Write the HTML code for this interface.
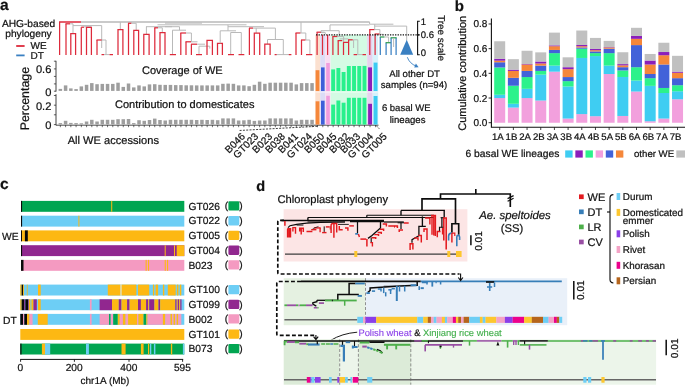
<!DOCTYPE html>
<html><head><meta charset="utf-8"><title>figure</title>
<style>
html,body{margin:0;padding:0;background:#fff;}
body{width:685px;height:387px;overflow:hidden;font-family:"Liberation Sans",sans-serif;}
svg{display:block;font-family:"Liberation Sans",sans-serif;text-rendering:geometricPrecision;will-change:transform;opacity:0.999;}
svg path{fill:none;}
svg text{stroke:#111;stroke-width:0.22px;paint-order:stroke fill;}
</style></head><body>
<svg width="685" height="387" viewBox="0 0 685 387">
<g id="pa">
<text x="0" y="10.2" font-size="15.5" text-anchor="start" fill="#111" font-weight="bold">a</text>
<text x="28.5" y="26.8" font-size="10.2" text-anchor="middle" fill="#111" >AHG-based</text>
<text x="28.5" y="37.2" font-size="10.2" text-anchor="middle" fill="#111" >phylogeny</text>
<path d="M16.2 46H24.6" stroke="#dd2a3b" stroke-width="1.8"/>
<path d="M16.2 55.4H24.6" stroke="#3a80c2" stroke-width="1.8"/>
<text x="30.5" y="49.3" font-size="10" text-anchor="start" fill="#111" >WE</text>
<text x="30.5" y="59.3" font-size="10" text-anchor="start" fill="#111" >DT</text>
<rect x="315.3" y="34.9" width="4.9" height="89.7" fill="#fbe0cf" />
<rect x="320.2" y="34.9" width="5" height="89.7" fill="#dcdcf6" />
<rect x="325.2" y="34.9" width="5.4" height="89.7" fill="#f8dcf2" />
<rect x="330.6" y="34.9" width="36.6" height="89.7" fill="#d4fbe4" />
<rect x="367.2" y="34.9" width="5.5" height="89.7" fill="#e6d2ee" />
<rect x="372.7" y="34.9" width="5.5" height="89.7" fill="#d6f2fb" />
<rect x="315.3" y="91.4" width="63" height="1.6" fill="#ffffff" opacity="0.35"/>
<path d="M56 60.8V91.6" stroke="#222" stroke-width="0.85"/>
<path d="M56 94.2V125.3" stroke="#222" stroke-width="0.85"/>
<path d="M53.9 61.2H56" stroke="#222" stroke-width="0.7"/>
<path d="M53.9 68.9H56" stroke="#222" stroke-width="0.7"/>
<path d="M53.9 76.4H56" stroke="#222" stroke-width="0.7"/>
<path d="M53.9 83.9H56" stroke="#222" stroke-width="0.7"/>
<path d="M53.9 91.2H56" stroke="#222" stroke-width="0.7"/>
<path d="M53.9 95.5H56" stroke="#222" stroke-width="0.7"/>
<path d="M53.9 105.2H56" stroke="#222" stroke-width="0.7"/>
<path d="M53.9 114.8H56" stroke="#222" stroke-width="0.7"/>
<path d="M53.9 124.6H56" stroke="#222" stroke-width="0.7"/>
<text x="51.3" y="73.3" font-size="11.1" text-anchor="end" fill="#111" >0.6</text>
<text x="51.3" y="95.5" font-size="11.1" text-anchor="end" fill="#111" >0</text>
<text x="51.3" y="109.6" font-size="11.1" text-anchor="end" fill="#111" >0.2</text>
<text x="51.3" y="128.6" font-size="11.1" text-anchor="end" fill="#111" >0</text>
<text transform="translate(28.9 98.6) rotate(-90)" font-size="12.4" text-anchor="middle" fill="#111" >Percentage</text>
<path d="M56 125.2H378.5" stroke="#222" stroke-width="0.8"/>
<rect x="58.6" y="88.9" width="3.5" height="2" fill="#9e9e9e" />
<rect x="58.6" y="123.1" width="3.5" height="1.4" fill="#9e9e9e" />
<path d="M60.35 125.2V127.2" stroke="#111" stroke-width="0.6"/>
<rect x="63.84" y="85.4" width="3.5" height="5.5" fill="#9e9e9e" />
<rect x="63.84" y="120.8" width="3.5" height="3.7" fill="#9e9e9e" />
<path d="M65.59 125.2V127.2" stroke="#111" stroke-width="0.6"/>
<rect x="69.09" y="88.4" width="3.5" height="2.5" fill="#9e9e9e" />
<rect x="69.09" y="122.9" width="3.5" height="1.6" fill="#9e9e9e" />
<path d="M70.84 125.2V127.2" stroke="#111" stroke-width="0.6"/>
<rect x="74.33" y="89.1" width="3.5" height="1.8" fill="#9e9e9e" />
<rect x="74.33" y="123.1" width="3.5" height="1.4" fill="#9e9e9e" />
<path d="M76.08 125.2V127.2" stroke="#111" stroke-width="0.6"/>
<rect x="79.58" y="86.4" width="3.5" height="4.5" fill="#9e9e9e" />
<rect x="79.58" y="123.3" width="3.5" height="1.2" fill="#9e9e9e" />
<path d="M81.33 125.2V127.2" stroke="#111" stroke-width="0.6"/>
<rect x="84.82" y="84.8" width="3.5" height="6.1" fill="#9e9e9e" />
<rect x="84.82" y="121.5" width="3.5" height="3" fill="#9e9e9e" />
<path d="M86.57 125.2V127.2" stroke="#111" stroke-width="0.6"/>
<rect x="90.06" y="83.1" width="3.5" height="7.8" fill="#9e9e9e" />
<rect x="90.06" y="119.8" width="3.5" height="4.7" fill="#9e9e9e" />
<path d="M91.81 125.2V127.2" stroke="#111" stroke-width="0.6"/>
<rect x="95.31" y="84.2" width="3.5" height="6.7" fill="#9e9e9e" />
<rect x="95.31" y="121.5" width="3.5" height="3" fill="#9e9e9e" />
<path d="M97.06 125.2V127.2" stroke="#111" stroke-width="0.6"/>
<rect x="100.55" y="83.9" width="3.5" height="7" fill="#9e9e9e" />
<rect x="100.55" y="119.8" width="3.5" height="4.7" fill="#9e9e9e" />
<path d="M102.3 125.2V127.2" stroke="#111" stroke-width="0.6"/>
<rect x="105.8" y="83.9" width="3.5" height="7" fill="#9e9e9e" />
<rect x="105.8" y="119.8" width="3.5" height="4.7" fill="#9e9e9e" />
<path d="M107.55 125.2V127.2" stroke="#111" stroke-width="0.6"/>
<rect x="111.04" y="83.9" width="3.5" height="7" fill="#9e9e9e" />
<rect x="111.04" y="119.8" width="3.5" height="4.7" fill="#9e9e9e" />
<path d="M112.79 125.2V127.2" stroke="#111" stroke-width="0.6"/>
<rect x="116.28" y="82.7" width="3.5" height="8.2" fill="#9e9e9e" />
<rect x="116.28" y="119.2" width="3.5" height="5.3" fill="#9e9e9e" />
<path d="M118.03 125.2V127.2" stroke="#111" stroke-width="0.6"/>
<rect x="121.53" y="86.9" width="3.5" height="4" fill="#9e9e9e" />
<rect x="121.53" y="119.2" width="3.5" height="5.3" fill="#9e9e9e" />
<path d="M123.28 125.2V127.2" stroke="#111" stroke-width="0.6"/>
<rect x="126.77" y="83.5" width="3.5" height="7.4" fill="#9e9e9e" />
<rect x="126.77" y="119" width="3.5" height="5.5" fill="#9e9e9e" />
<path d="M128.52 125.2V127.2" stroke="#111" stroke-width="0.6"/>
<rect x="132.02" y="87.4" width="3.5" height="3.5" fill="#9e9e9e" />
<rect x="132.02" y="123.1" width="3.5" height="1.4" fill="#9e9e9e" />
<path d="M133.77 125.2V127.2" stroke="#111" stroke-width="0.6"/>
<rect x="137.26" y="85.4" width="3.5" height="5.5" fill="#9e9e9e" />
<rect x="137.26" y="120.2" width="3.5" height="4.3" fill="#9e9e9e" />
<path d="M139.01 125.2V127.2" stroke="#111" stroke-width="0.6"/>
<rect x="142.5" y="86.4" width="3.5" height="4.5" fill="#9e9e9e" />
<rect x="142.5" y="120.8" width="3.5" height="3.7" fill="#9e9e9e" />
<path d="M144.25 125.2V127.2" stroke="#111" stroke-width="0.6"/>
<rect x="147.75" y="84.4" width="3.5" height="6.5" fill="#9e9e9e" />
<rect x="147.75" y="120" width="3.5" height="4.5" fill="#9e9e9e" />
<path d="M149.5 125.2V127.2" stroke="#111" stroke-width="0.6"/>
<rect x="152.99" y="84.2" width="3.5" height="6.7" fill="#9e9e9e" />
<rect x="152.99" y="118.6" width="3.5" height="5.9" fill="#9e9e9e" />
<path d="M154.74 125.2V127.2" stroke="#111" stroke-width="0.6"/>
<rect x="158.24" y="84.8" width="3.5" height="6.1" fill="#9e9e9e" />
<rect x="158.24" y="120" width="3.5" height="4.5" fill="#9e9e9e" />
<path d="M159.99 125.2V127.2" stroke="#111" stroke-width="0.6"/>
<rect x="163.48" y="84.9" width="3.5" height="6" fill="#9e9e9e" />
<rect x="163.48" y="120.5" width="3.5" height="4" fill="#9e9e9e" />
<path d="M165.23 125.2V127.2" stroke="#111" stroke-width="0.6"/>
<rect x="168.72" y="84.9" width="3.5" height="6" fill="#9e9e9e" />
<rect x="168.72" y="119.8" width="3.5" height="4.7" fill="#9e9e9e" />
<path d="M170.47 125.2V127.2" stroke="#111" stroke-width="0.6"/>
<rect x="173.97" y="85.1" width="3.5" height="5.8" fill="#9e9e9e" />
<rect x="173.97" y="119.8" width="3.5" height="4.7" fill="#9e9e9e" />
<path d="M175.72 125.2V127.2" stroke="#111" stroke-width="0.6"/>
<rect x="179.21" y="85.1" width="3.5" height="5.8" fill="#9e9e9e" />
<rect x="179.21" y="119.8" width="3.5" height="4.7" fill="#9e9e9e" />
<path d="M180.96 125.2V127.2" stroke="#111" stroke-width="0.6"/>
<rect x="184.46" y="85.3" width="3.5" height="5.6" fill="#9e9e9e" />
<rect x="184.46" y="119.8" width="3.5" height="4.7" fill="#9e9e9e" />
<path d="M186.21 125.2V127.2" stroke="#111" stroke-width="0.6"/>
<rect x="189.7" y="85.3" width="3.5" height="5.6" fill="#9e9e9e" />
<rect x="189.7" y="119.8" width="3.5" height="4.7" fill="#9e9e9e" />
<path d="M191.45 125.2V127.2" stroke="#111" stroke-width="0.6"/>
<rect x="194.94" y="85.4" width="3.5" height="5.5" fill="#9e9e9e" />
<rect x="194.94" y="120" width="3.5" height="4.5" fill="#9e9e9e" />
<path d="M196.69 125.2V127.2" stroke="#111" stroke-width="0.6"/>
<rect x="200.19" y="85.4" width="3.5" height="5.5" fill="#9e9e9e" />
<rect x="200.19" y="119.8" width="3.5" height="4.7" fill="#9e9e9e" />
<path d="M201.94 125.2V127.2" stroke="#111" stroke-width="0.6"/>
<rect x="205.43" y="85.4" width="3.5" height="5.5" fill="#9e9e9e" />
<rect x="205.43" y="120" width="3.5" height="4.5" fill="#9e9e9e" />
<path d="M207.18 125.2V127.2" stroke="#111" stroke-width="0.6"/>
<rect x="210.68" y="85.4" width="3.5" height="5.5" fill="#9e9e9e" />
<rect x="210.68" y="119.8" width="3.5" height="4.7" fill="#9e9e9e" />
<path d="M212.43 125.2V127.2" stroke="#111" stroke-width="0.6"/>
<rect x="215.92" y="85.4" width="3.5" height="5.5" fill="#9e9e9e" />
<rect x="215.92" y="120.2" width="3.5" height="4.3" fill="#9e9e9e" />
<path d="M217.67 125.2V127.2" stroke="#111" stroke-width="0.6"/>
<rect x="221.16" y="83.8" width="3.5" height="7.1" fill="#9e9e9e" />
<rect x="221.16" y="118.4" width="3.5" height="6.1" fill="#9e9e9e" />
<path d="M222.91 125.2V127.2" stroke="#111" stroke-width="0.6"/>
<rect x="226.41" y="83.6" width="3.5" height="7.3" fill="#9e9e9e" />
<rect x="226.41" y="118.4" width="3.5" height="6.1" fill="#9e9e9e" />
<path d="M228.16 125.2V127.2" stroke="#111" stroke-width="0.6"/>
<rect x="231.65" y="83.8" width="3.5" height="7.1" fill="#9e9e9e" />
<rect x="231.65" y="118.4" width="3.5" height="6.1" fill="#9e9e9e" />
<path d="M233.4 125.2V127.2" stroke="#111" stroke-width="0.6"/>
<rect x="236.9" y="85.4" width="3.5" height="5.5" fill="#9e9e9e" />
<rect x="236.9" y="120.5" width="3.5" height="4" fill="#9e9e9e" />
<path d="M238.65 125.2V127.2" stroke="#111" stroke-width="0.6"/>
<rect x="242.14" y="85.4" width="3.5" height="5.5" fill="#9e9e9e" />
<rect x="242.14" y="120.3" width="3.5" height="4.2" fill="#9e9e9e" />
<path d="M243.89 125.2V127.2" stroke="#111" stroke-width="0.6"/>
<rect x="247.38" y="86.2" width="3.5" height="4.7" fill="#9e9e9e" />
<rect x="247.38" y="119.8" width="3.5" height="4.7" fill="#9e9e9e" />
<path d="M249.13 125.2V127.2" stroke="#111" stroke-width="0.6"/>
<rect x="252.63" y="84.8" width="3.5" height="6.1" fill="#9e9e9e" />
<rect x="252.63" y="120.9" width="3.5" height="3.6" fill="#9e9e9e" />
<path d="M254.38 125.2V127.2" stroke="#111" stroke-width="0.6"/>
<rect x="257.87" y="81.7" width="3.5" height="9.2" fill="#9e9e9e" />
<rect x="257.87" y="120.5" width="3.5" height="4" fill="#9e9e9e" />
<path d="M259.62 125.2V127.2" stroke="#111" stroke-width="0.6"/>
<rect x="263.12" y="83.8" width="3.5" height="7.1" fill="#9e9e9e" />
<rect x="263.12" y="120.5" width="3.5" height="4" fill="#9e9e9e" />
<path d="M264.87 125.2V127.2" stroke="#111" stroke-width="0.6"/>
<rect x="268.36" y="82.7" width="3.5" height="8.2" fill="#9e9e9e" />
<rect x="268.36" y="118.4" width="3.5" height="6.1" fill="#9e9e9e" />
<path d="M270.11 125.2V127.2" stroke="#111" stroke-width="0.6"/>
<rect x="273.6" y="82.7" width="3.5" height="8.2" fill="#9e9e9e" />
<rect x="273.6" y="118.4" width="3.5" height="6.1" fill="#9e9e9e" />
<path d="M275.35 125.2V127.2" stroke="#111" stroke-width="0.6"/>
<rect x="278.85" y="82.7" width="3.5" height="8.2" fill="#9e9e9e" />
<rect x="278.85" y="118.4" width="3.5" height="6.1" fill="#9e9e9e" />
<path d="M280.6 125.2V127.2" stroke="#111" stroke-width="0.6"/>
<rect x="284.09" y="82.7" width="3.5" height="8.2" fill="#9e9e9e" />
<rect x="284.09" y="118.4" width="3.5" height="6.1" fill="#9e9e9e" />
<path d="M285.84 125.2V127.2" stroke="#111" stroke-width="0.6"/>
<rect x="289.34" y="82.7" width="3.5" height="8.2" fill="#9e9e9e" />
<rect x="289.34" y="118.4" width="3.5" height="6.1" fill="#9e9e9e" />
<path d="M291.09 125.2V127.2" stroke="#111" stroke-width="0.6"/>
<rect x="294.58" y="84.4" width="3.5" height="6.5" fill="#9e9e9e" />
<rect x="294.58" y="120.5" width="3.5" height="4" fill="#9e9e9e" />
<path d="M296.33 125.2V127.2" stroke="#111" stroke-width="0.6"/>
<rect x="299.82" y="83.1" width="3.5" height="7.8" fill="#9e9e9e" />
<rect x="299.82" y="119.8" width="3.5" height="4.7" fill="#9e9e9e" />
<path d="M301.57 125.2V127.2" stroke="#111" stroke-width="0.6"/>
<rect x="305.07" y="83.1" width="3.5" height="7.8" fill="#9e9e9e" />
<rect x="305.07" y="119.8" width="3.5" height="4.7" fill="#9e9e9e" />
<path d="M306.82 125.2V127.2" stroke="#111" stroke-width="0.6"/>
<rect x="310.31" y="83.1" width="3.5" height="7.8" fill="#9e9e9e" />
<rect x="310.31" y="119.8" width="3.5" height="4.7" fill="#9e9e9e" />
<path d="M312.06 125.2V127.2" stroke="#111" stroke-width="0.6"/>
<rect x="315.6" y="70.2" width="3.8" height="20.8" fill="#f5873a" />
<rect x="315.6" y="101.3" width="3.8" height="23.3" fill="#f5873a" />
<path d="M317.5 125.2V127.2" stroke="#111" stroke-width="0.6"/>
<rect x="321" y="67.4" width="3.6" height="23.6" fill="#3d5fd9" />
<rect x="321" y="100.7" width="3.6" height="23.9" fill="#3d5fd9" />
<path d="M322.8 125.2V127.2" stroke="#111" stroke-width="0.6"/>
<rect x="326.2" y="63" width="3.6" height="28" fill="#f09ddd" />
<rect x="326.2" y="95.8" width="3.6" height="28.8" fill="#f09ddd" />
<path d="M328 125.2V127.2" stroke="#111" stroke-width="0.6"/>
<rect x="331.2" y="69.4" width="3.9" height="21.6" fill="#28f08c" />
<rect x="331.2" y="104.6" width="3.9" height="20" fill="#28f08c" />
<path d="M333.15 125.2V127.2" stroke="#111" stroke-width="0.6"/>
<rect x="336.42" y="68" width="3.9" height="23" fill="#28f08c" />
<rect x="336.42" y="100.5" width="3.9" height="24.1" fill="#28f08c" />
<path d="M338.37 125.2V127.2" stroke="#111" stroke-width="0.6"/>
<rect x="341.64" y="72" width="3.9" height="19" fill="#28f08c" />
<rect x="341.64" y="102.7" width="3.9" height="21.9" fill="#28f08c" />
<path d="M343.59 125.2V127.2" stroke="#111" stroke-width="0.6"/>
<rect x="346.86" y="66" width="3.9" height="25" fill="#28f08c" />
<rect x="346.86" y="97.8" width="3.9" height="26.8" fill="#28f08c" />
<path d="M348.81 125.2V127.2" stroke="#111" stroke-width="0.6"/>
<rect x="352.08" y="66" width="3.9" height="25" fill="#28f08c" />
<rect x="352.08" y="97.8" width="3.9" height="26.8" fill="#28f08c" />
<path d="M354.03 125.2V127.2" stroke="#111" stroke-width="0.6"/>
<rect x="357.3" y="66" width="3.9" height="25" fill="#28f08c" />
<rect x="357.3" y="97.8" width="3.9" height="26.8" fill="#28f08c" />
<path d="M359.25 125.2V127.2" stroke="#111" stroke-width="0.6"/>
<rect x="362.52" y="65.9" width="3.9" height="25.1" fill="#28f08c" />
<rect x="362.52" y="97.8" width="3.9" height="26.8" fill="#28f08c" />
<path d="M364.47 125.2V127.2" stroke="#111" stroke-width="0.6"/>
<rect x="368.1" y="67.4" width="3.9" height="23.6" fill="#8c1fba" />
<rect x="368.1" y="103.8" width="3.9" height="20.8" fill="#8c1fba" />
<path d="M370.05 125.2V127.2" stroke="#111" stroke-width="0.6"/>
<rect x="373.6" y="62.6" width="3.9" height="28.4" fill="#3ccbf2" />
<rect x="373.6" y="96" width="3.9" height="28.6" fill="#3ccbf2" />
<path d="M375.55 125.2V127.2" stroke="#111" stroke-width="0.6"/>
<text x="142" y="74.1" font-size="11" text-anchor="start" fill="#111" >Coverage of WE</text>
<text x="115" y="108.2" font-size="11" text-anchor="start" fill="#111" >Contribution to domesticates</text>
<text x="67.7" y="143.7" font-size="11.1" text-anchor="start" fill="#111" >All WE accessions</text>
<text x="414.6" y="77" font-size="9.6" text-anchor="middle" fill="#111" >All other DT</text>
<text x="414" y="88" font-size="9.6" text-anchor="middle" fill="#111" >samples (n=94)</text>
<text x="406.2" y="110.9" font-size="9.5" text-anchor="middle" fill="#111" >6 basal WE</text>
<text x="407.6" y="122.5" font-size="9.6" text-anchor="middle" fill="#111" >lineages</text>
<path d="M317.4 126.3L239.2 130.5" stroke="#111" stroke-width="0.8" stroke-dasharray="2 1.3"/>
<path d="M376.2 125.6L379.9 129.4" stroke="#111" stroke-width="0.8" stroke-dasharray="1.6 1.2"/>
<text transform="translate(245.6 137.1) rotate(-45)" font-size="10.1" text-anchor="end" fill="#111" >B046</text>
<text transform="translate(259 137.1) rotate(-45)" font-size="10.1" text-anchor="end" fill="#111" >GT023</text>
<text transform="translate(272.9 137.1) rotate(-45)" font-size="10.1" text-anchor="end" fill="#111" >B023</text>
<text transform="translate(285.8 137.1) rotate(-45)" font-size="10.1" text-anchor="end" fill="#111" >B038</text>
<text transform="translate(298.7 137.1) rotate(-45)" font-size="10.1" text-anchor="end" fill="#111" >B041</text>
<text transform="translate(312.6 137.1) rotate(-45)" font-size="10.1" text-anchor="end" fill="#111" >GT024</text>
<text transform="translate(325 137.1) rotate(-45)" font-size="10.1" text-anchor="end" fill="#111" >B050</text>
<text transform="translate(337.2 137.1) rotate(-45)" font-size="10.1" text-anchor="end" fill="#111" >B045</text>
<text transform="translate(350 137.1) rotate(-45)" font-size="10.1" text-anchor="end" fill="#111" >B032</text>
<text transform="translate(361 137.1) rotate(-45)" font-size="10.1" text-anchor="end" fill="#111" >B033</text>
<text transform="translate(373.6 137.1) rotate(-45)" font-size="10.1" text-anchor="end" fill="#111" >GT004</text>
<text transform="translate(387.4 137.1) rotate(-45)" font-size="10.1" text-anchor="end" fill="#111" >GT005</text>
<path d="M59 22H81" stroke="#dd2a3b" stroke-width="1.5"/>
<path d="M81 22H369.6" stroke="#b9b9b9" stroke-width="1.5"/>
<path d="M165 23.1H202" stroke="#b9b9b9" stroke-width="1"/>
<path d="M157.5 24.8H246.5" stroke="#b9b9b9" stroke-width="1"/>
<path d="M59.6 22V55" stroke="#dd2a3b" stroke-width="1.25"/>
<path d="M66 23.8V55" stroke="#dd2a3b" stroke-width="1.25"/>
<path d="M65.5 23.8H70" stroke="#dd2a3b" stroke-width="1.25"/>
<path d="M70 23.8H73" stroke="#b9b9b9" stroke-width="1"/>
<path d="M73 23.8V33.5" stroke="#b9b9b9" stroke-width="1"/>
<path d="M70.8 55V33.6H75.6V55" stroke="#dd2a3b" stroke-width="1.25" fill="none" />
<path d="M73 25.6H101.7" stroke="#b9b9b9" stroke-width="1"/>
<path d="M81.3 27.2V55" stroke="#dd2a3b" stroke-width="1.25"/>
<path d="M81.3 27.2H84" stroke="#dd2a3b" stroke-width="1.25"/>
<path d="M84 26.8H91.3" stroke="#b9b9b9" stroke-width="1"/>
<path d="M86.5 55V27.4H91.4V55" stroke="#dd2a3b" stroke-width="1.25" fill="none" />
<path d="M101.7 25.6V48" stroke="#b9b9b9" stroke-width="1"/>
<path d="M97 40V55" stroke="#dd2a3b" stroke-width="1.25"/>
<path d="M96.5 40H101.7" stroke="#dd2a3b" stroke-width="1.25"/>
<path d="M101.7 40H106" stroke="#b9b9b9" stroke-width="1"/>
<path d="M106 40V54.5" stroke="#b9b9b9" stroke-width="1"/>
<path d="M101.5 54.6H104" stroke="#dd2a3b" stroke-width="1.25"/>
<path d="M104 54.6H109.5" stroke="#b9b9b9" stroke-width="1"/>
<path d="M109.5 54.6H113" stroke="#dd2a3b" stroke-width="1.25"/>
<path d="M120.3 22V29.4" stroke="#b9b9b9" stroke-width="1"/>
<path d="M118 55V29.5H122.9V55" stroke="#dd2a3b" stroke-width="1.25" fill="none" />
<path d="M128.5 23.3V55" stroke="#dd2a3b" stroke-width="1.25"/>
<path d="M128 23.3H131.5" stroke="#dd2a3b" stroke-width="1.25"/>
<path d="M131.5 23.3H136.2" stroke="#b9b9b9" stroke-width="1"/>
<path d="M136.2 23.3V30" stroke="#b9b9b9" stroke-width="1"/>
<path d="M133.8 55V30.3H138.6V55" stroke="#dd2a3b" stroke-width="1.25" fill="none" />
<path d="M146 26.7H172" stroke="#b9b9b9" stroke-width="1"/>
<path d="M146.4 26.7V34" stroke="#b9b9b9" stroke-width="1"/>
<path d="M143.8 55V34.3H149.1V55" stroke="#dd2a3b" stroke-width="1.25" fill="none" />
<path d="M154.8 27.8V55" stroke="#dd2a3b" stroke-width="1.25"/>
<path d="M154.3 27.8H158" stroke="#dd2a3b" stroke-width="1.25"/>
<path d="M158 27.8H162.3" stroke="#b9b9b9" stroke-width="1"/>
<path d="M162.3 27.8V32.4" stroke="#b9b9b9" stroke-width="1"/>
<path d="M160 55V32.6H165V55" stroke="#dd2a3b" stroke-width="1.25" fill="none" />
<path d="M165 26.7H179.5" stroke="#b9b9b9" stroke-width="1"/>
<path d="M179.5 26.7V30.2" stroke="#b9b9b9" stroke-width="1"/>
<path d="M172.4 30.2H186" stroke="#b9b9b9" stroke-width="1"/>
<path d="M172.5 30.2V54.5" stroke="#b9b9b9" stroke-width="1"/>
<path d="M169.8 54.6H176" stroke="#dd2a3b" stroke-width="1.25"/>
<path d="M180.8 33V55" stroke="#dd2a3b" stroke-width="1.25"/>
<path d="M180.3 33H186" stroke="#dd2a3b" stroke-width="1.25"/>
<path d="M186 33H191.4" stroke="#b9b9b9" stroke-width="1"/>
<path d="M191.4 33V42" stroke="#b9b9b9" stroke-width="1"/>
<path d="M186 41.8V55" stroke="#dd2a3b" stroke-width="1.25"/>
<path d="M185.5 41.8H191" stroke="#dd2a3b" stroke-width="1.25"/>
<path d="M191 41.8H197.5" stroke="#b9b9b9" stroke-width="1"/>
<path d="M191.4 44.2V55" stroke="#dd2a3b" stroke-width="1.25"/>
<path d="M191 44.2H197" stroke="#dd2a3b" stroke-width="1.25"/>
<path d="M197 44.2H205" stroke="#b9b9b9" stroke-width="1"/>
<path d="M199 46.2V54.5" stroke="#b9b9b9" stroke-width="1"/>
<path d="M199 46.2H209.8" stroke="#b9b9b9" stroke-width="1"/>
<path d="M209.8 46.2V48.6" stroke="#b9b9b9" stroke-width="1"/>
<path d="M196 54.6H202" stroke="#dd2a3b" stroke-width="1.25"/>
<path d="M207 55V40.4H212.4V55" stroke="#dd2a3b" stroke-width="1.25" fill="none" />
<path d="M217.5 55V43.4H222.4V55" stroke="#dd2a3b" stroke-width="1.25" fill="none" />
<path d="M228 26.7H264" stroke="#b9b9b9" stroke-width="1"/>
<path d="M228 24.8V30.8" stroke="#b9b9b9" stroke-width="1"/>
<path d="M220.2 30.8H236" stroke="#b9b9b9" stroke-width="1"/>
<path d="M220.2 30.8V43.4" stroke="#b9b9b9" stroke-width="1"/>
<path d="M230.7 54.5V32.5H241.3V54.5" stroke="#b9b9b9" stroke-width="1" fill="none" />
<path d="M228 54.6H234" stroke="#dd2a3b" stroke-width="1.25"/>
<path d="M238.5 54.6H244.3" stroke="#dd2a3b" stroke-width="1.25"/>
<path d="M249.4 28.1V55" stroke="#dd2a3b" stroke-width="1.25"/>
<path d="M249 28.1H253" stroke="#dd2a3b" stroke-width="1.25"/>
<path d="M253 28.1H275.4" stroke="#b9b9b9" stroke-width="1"/>
<path d="M256.2 28.1V33" stroke="#b9b9b9" stroke-width="1"/>
<path d="M254.3 55V33.1H259.7V55" stroke="#dd2a3b" stroke-width="1.25" fill="none" />
<path d="M275.4 28.1V39.5" stroke="#b9b9b9" stroke-width="1"/>
<path d="M267.5 39.5H283.3" stroke="#b9b9b9" stroke-width="1"/>
<path d="M267.5 39.5V44" stroke="#b9b9b9" stroke-width="1"/>
<path d="M283.3 39.5V54.6" stroke="#b9b9b9" stroke-width="1"/>
<path d="M264.8 55V44H270.1V55" stroke="#dd2a3b" stroke-width="1.25" fill="none" />
<path d="M275.4 54.6H290" stroke="#b9b9b9" stroke-width="1"/>
<path d="M274.6 54.6H276.6" stroke="#dd2a3b" stroke-width="1.25"/>
<path d="M288.8 54.6H291.4" stroke="#dd2a3b" stroke-width="1.25"/>
<path d="M301 22V33" stroke="#b9b9b9" stroke-width="1"/>
<path d="M296 33V55" stroke="#dd2a3b" stroke-width="1.25"/>
<path d="M295.5 33H300.5" stroke="#dd2a3b" stroke-width="1.25"/>
<path d="M300.5 33H305.8" stroke="#b9b9b9" stroke-width="1"/>
<path d="M305.8 33V40" stroke="#b9b9b9" stroke-width="1"/>
<path d="M301.5 40V55" stroke="#dd2a3b" stroke-width="1.25"/>
<path d="M301 40H305.5" stroke="#dd2a3b" stroke-width="1.25"/>
<path d="M305.5 40H309.9" stroke="#b9b9b9" stroke-width="1"/>
<path d="M309.9 40V54.6" stroke="#b9b9b9" stroke-width="1"/>
<path d="M306 54.6H312.3" stroke="#dd2a3b" stroke-width="1.25"/>
<path d="M330 24.9H369.6" stroke="#b9b9b9" stroke-width="1"/>
<path d="M330 24.9V30.7" stroke="#b9b9b9" stroke-width="1"/>
<path d="M321 30.7H339.2" stroke="#b9b9b9" stroke-width="1"/>
<path d="M339.2 30.7V36.3" stroke="#b9b9b9" stroke-width="1"/>
<path d="M317.1 32.2V55" stroke="#dd2a3b" stroke-width="1.25"/>
<path d="M316.6 32.2H321" stroke="#dd2a3b" stroke-width="1.25"/>
<path d="M321 32.2H324.5" stroke="#b9b9b9" stroke-width="1"/>
<path d="M321 30.7V32.2" stroke="#b9b9b9" stroke-width="1"/>
<path d="M321 32.6H325.3" stroke="#b9b9b9" stroke-width="1"/>
<path d="M325.3 32.6V34.5" stroke="#b9b9b9" stroke-width="1"/>
<path d="M322.5 34.8V55" stroke="#dd2a3b" stroke-width="1.25"/>
<path d="M327.6 34.8V55" stroke="#dd2a3b" stroke-width="1.25"/>
<path d="M332.9 36.5V55" stroke="#dd2a3b" stroke-width="1.25"/>
<path d="M332.4 36.5H337.5" stroke="#dd2a3b" stroke-width="1.25"/>
<path d="M337.5 36.5H343.6" stroke="#b9b9b9" stroke-width="1"/>
<path d="M343.6 36.5V41.8" stroke="#b9b9b9" stroke-width="1"/>
<path d="M338.2 40.6V55" stroke="#dd2a3b" stroke-width="1.25"/>
<path d="M337.7 40.6H342.3" stroke="#dd2a3b" stroke-width="1.25"/>
<path d="M339.5 38.9H348.3" stroke="#b9b9b9" stroke-width="1"/>
<path d="M343.5 42.4V55" stroke="#dd2a3b" stroke-width="1.25"/>
<path d="M343 42.4H349" stroke="#dd2a3b" stroke-width="1.25"/>
<path d="M348.6 39.8V55" stroke="#dd2a3b" stroke-width="1.25"/>
<path d="M348.1 39.8H352.8" stroke="#dd2a3b" stroke-width="1.25"/>
<path d="M352.8 39.8H357.8" stroke="#b9b9b9" stroke-width="1"/>
<path d="M353.6 40V48" stroke="#b9b9b9" stroke-width="1"/>
<path d="M357.8 39.8V54.5" stroke="#b9b9b9" stroke-width="1"/>
<path d="M353.6 54.6H357" stroke="#dd2a3b" stroke-width="1.25"/>
<path d="M357 54.6H362.5" stroke="#b9b9b9" stroke-width="1"/>
<path d="M362.5 54.6H366" stroke="#dd2a3b" stroke-width="1.25"/>
<path d="M369.6 24.2H393.4" stroke="#b9b9b9" stroke-width="1"/>
<path d="M369.6 22V24.2" stroke="#b9b9b9" stroke-width="1"/>
<path d="M374.7 26.1H406.7" stroke="#b9b9b9" stroke-width="1"/>
<path d="M374.7 24.2V29.6" stroke="#b9b9b9" stroke-width="1"/>
<path d="M369.8 29.6V55" stroke="#dd2a3b" stroke-width="1.25"/>
<path d="M369.3 29.6H374.5" stroke="#dd2a3b" stroke-width="1.25"/>
<path d="M374.5 29.6H379.9" stroke="#b9b9b9" stroke-width="1"/>
<path d="M379.9 29.6V34" stroke="#b9b9b9" stroke-width="1"/>
<path d="M375.1 34V55" stroke="#dd2a3b" stroke-width="1.25"/>
<path d="M374.6 34H379.5" stroke="#dd2a3b" stroke-width="1.25"/>
<path d="M379.5 34.3H383.5" stroke="#b9b9b9" stroke-width="1"/>
<path d="M380.3 37V55" stroke="#3a80c2" stroke-width="1.25"/>
<path d="M379.8 37H384.5" stroke="#2e9e4f" stroke-width="1.25"/>
<path d="M384.5 37H388.6" stroke="#b9b9b9" stroke-width="1"/>
<path d="M388.6 37V42.7" stroke="#b9b9b9" stroke-width="1"/>
<path d="M386.1 42.7V55" stroke="#3a80c2" stroke-width="1.25"/>
<path d="M385.6 42.7H391" stroke="#2e9e4f" stroke-width="1.25"/>
<path d="M391.1 37.8V55" stroke="#3a80c2" stroke-width="1.25"/>
<path d="M396.1 37.8V55" stroke="#3a80c2" stroke-width="1.25"/>
<path d="M390.6 37.8H396.6" stroke="#2e9e4f" stroke-width="1.25"/>
<path d="M393.6 38V47" stroke="#b9b9b9" stroke-width="1"/>
<path d="M406.7 26.1V40.5" stroke="#b9b9b9" stroke-width="1"/>
<path d="M406.7 39.8L413.2 54.8H400.2Z" style="fill:#3a80c2" stroke="none"/>
<path d="M316 34.9H419.5" stroke="#111" stroke-width="1.1" stroke-dasharray="1.3 1.25"/>
<path d="M419.8 21.3H417.6V54.7H419.8" stroke="#111" stroke-width="1.1" fill="none" />
<path d="M417.6 34.9H419.8" stroke="#111" stroke-width="1"/>
<text x="420.8" y="24.8" font-size="9.5" text-anchor="start" fill="#111" >1</text>
<text x="420.8" y="38.3" font-size="9.5" text-anchor="start" fill="#111" >0.6</text>
<text x="420.8" y="55.5" font-size="9.5" text-anchor="start" fill="#111" >0</text>
<text transform="translate(437.9 38) rotate(90)" font-size="9.9" text-anchor="middle" fill="#111" >Tree scale</text>
<path d="M407.3 57.2Q409.5 63.5 416.3 66.2" stroke="#3a80c2" stroke-width="0.9" fill="none" />
<path d="M418.6 67.2L414.2 67.6L415.9 63.6Z" style="fill:#3a80c2" stroke="none"/>
</g>
<g id="pb">
<text x="454.8" y="11.4" font-size="15" text-anchor="start" fill="#111" font-weight="bold">b</text>
<path d="M491.4 18.6V127.2" stroke="#111" stroke-width="1.1"/>
<path d="M490.9 127.3H685" stroke="#111" stroke-width="1.1"/>
<path d="M488.6 122.7H491.4" stroke="#111" stroke-width="0.9"/>
<text x="487.3" y="126.2" font-size="10" text-anchor="end" fill="#111" >0.0</text>
<path d="M488.6 98.02H491.4" stroke="#111" stroke-width="0.9"/>
<text x="487.3" y="101.52" font-size="10" text-anchor="end" fill="#111" >0.2</text>
<path d="M488.6 73.34H491.4" stroke="#111" stroke-width="0.9"/>
<text x="487.3" y="76.84" font-size="10" text-anchor="end" fill="#111" >0.4</text>
<path d="M488.6 48.66H491.4" stroke="#111" stroke-width="0.9"/>
<text x="487.3" y="52.16" font-size="10" text-anchor="end" fill="#111" >0.6</text>
<path d="M488.6 23.98H491.4" stroke="#111" stroke-width="0.9"/>
<text x="487.3" y="27.48" font-size="10" text-anchor="end" fill="#111" >0.8</text>
<text transform="translate(465.6 73.3) rotate(-90)" font-size="11" text-anchor="middle" fill="#111" >Cumulative contribution</text>
<rect x="494.2" y="98.02" width="11" height="24.73" fill="#f2a0dd" />
<rect x="494.2" y="94.69" width="11" height="3.38" fill="#3fcdf2" />
<rect x="494.2" y="67.42" width="11" height="27.32" fill="#2cf28b" />
<rect x="494.2" y="62.23" width="11" height="5.23" fill="#4262d9" />
<rect x="494.2" y="60.63" width="11" height="1.65" fill="#f5873a" />
<rect x="494.2" y="58.78" width="11" height="1.9" fill="#8b1fbb" />
<rect x="494.2" y="41.26" width="11" height="17.57" fill="#c0c0c0" />
<path d="M499.7 127.2V130" stroke="#111" stroke-width="0.8"/>
<text x="497.8" y="139.8" font-size="9.6" text-anchor="middle" fill="#111" >1A</text>
<rect x="507.88" y="107.52" width="11" height="15.23" fill="#f2a0dd" />
<rect x="507.88" y="103.7" width="11" height="3.88" fill="#3fcdf2" />
<rect x="507.88" y="85.68" width="11" height="18.07" fill="#2cf28b" />
<rect x="507.88" y="77.78" width="11" height="7.95" fill="#4262d9" />
<rect x="507.88" y="70.87" width="11" height="6.96" fill="#f5873a" />
<rect x="507.88" y="69.64" width="11" height="1.28" fill="#8b1fbb" />
<rect x="507.88" y="59.15" width="11" height="10.54" fill="#c0c0c0" />
<path d="M513.38 127.2V130" stroke="#111" stroke-width="0.8"/>
<text x="511.48" y="139.8" font-size="9.6" text-anchor="middle" fill="#111" >1B</text>
<rect x="521.56" y="98.02" width="11" height="24.73" fill="#f2a0dd" />
<rect x="521.56" y="88.77" width="11" height="9.3" fill="#3fcdf2" />
<rect x="521.56" y="77.04" width="11" height="11.77" fill="#2cf28b" />
<rect x="521.56" y="70.87" width="11" height="6.22" fill="#4262d9" />
<rect x="521.56" y="64.46" width="11" height="6.47" fill="#f5873a" />
<rect x="521.56" y="63.96" width="11" height="0.54" fill="#8b1fbb" />
<rect x="521.56" y="50.76" width="11" height="13.25" fill="#c0c0c0" />
<path d="M527.06 127.2V130" stroke="#111" stroke-width="0.8"/>
<text x="525.16" y="139.8" font-size="9.6" text-anchor="middle" fill="#111" >2A</text>
<rect x="535.24" y="100.49" width="11" height="22.26" fill="#f2a0dd" />
<rect x="535.24" y="74.57" width="11" height="25.96" fill="#3fcdf2" />
<rect x="535.24" y="70.87" width="11" height="3.75" fill="#2cf28b" />
<rect x="535.24" y="65.57" width="11" height="5.36" fill="#4262d9" />
<rect x="535.24" y="63.47" width="11" height="2.15" fill="#f5873a" />
<rect x="535.24" y="61.49" width="11" height="2.02" fill="#8b1fbb" />
<rect x="535.24" y="52.36" width="11" height="9.18" fill="#c0c0c0" />
<path d="M540.74 127.2V130" stroke="#111" stroke-width="0.8"/>
<text x="538.84" y="139.8" font-size="9.6" text-anchor="middle" fill="#111" >2B</text>
<rect x="548.92" y="71.61" width="11" height="51.14" fill="#f2a0dd" />
<rect x="548.92" y="65.57" width="11" height="6.1" fill="#3fcdf2" />
<rect x="548.92" y="53.1" width="11" height="12.51" fill="#2cf28b" />
<rect x="548.92" y="49.89" width="11" height="3.26" fill="#4262d9" />
<rect x="548.92" y="46.19" width="11" height="3.75" fill="#f5873a" />
<rect x="548.92" y="45.33" width="11" height="0.91" fill="#8b1fbb" />
<rect x="548.92" y="32.62" width="11" height="12.76" fill="#c0c0c0" />
<path d="M554.42 127.2V130" stroke="#111" stroke-width="0.8"/>
<text x="552.52" y="139.8" font-size="9.6" text-anchor="middle" fill="#111" >3A</text>
<rect x="562.6" y="118.5" width="11" height="4.25" fill="#f2a0dd" />
<rect x="562.6" y="86.42" width="11" height="32.13" fill="#3fcdf2" />
<rect x="562.6" y="81.11" width="11" height="5.36" fill="#2cf28b" />
<rect x="562.6" y="77.04" width="11" height="4.12" fill="#4262d9" />
<rect x="562.6" y="69.14" width="11" height="7.95" fill="#f5873a" />
<rect x="562.6" y="67.17" width="11" height="2.02" fill="#8b1fbb" />
<rect x="562.6" y="57.3" width="11" height="9.92" fill="#c0c0c0" />
<path d="M568.1 127.2V130" stroke="#111" stroke-width="0.8"/>
<text x="566.2" y="139.8" font-size="9.6" text-anchor="middle" fill="#111" >3B</text>
<rect x="576.28" y="114.06" width="11" height="8.69" fill="#f2a0dd" />
<rect x="576.28" y="57.91" width="11" height="56.2" fill="#3fcdf2" />
<rect x="576.28" y="48.66" width="11" height="9.3" fill="#2cf28b" />
<rect x="576.28" y="47.43" width="11" height="1.28" fill="#4262d9" />
<rect x="576.28" y="46.19" width="11" height="1.28" fill="#f5873a" />
<rect x="576.28" y="44.96" width="11" height="1.28" fill="#8b1fbb" />
<rect x="576.28" y="30.52" width="11" height="14.49" fill="#c0c0c0" />
<path d="M581.78 127.2V130" stroke="#111" stroke-width="0.8"/>
<text x="579.88" y="139.8" font-size="9.6" text-anchor="middle" fill="#111" >4A</text>
<rect x="589.96" y="116.16" width="11" height="6.59" fill="#f2a0dd" />
<rect x="589.96" y="56.06" width="11" height="60.15" fill="#3fcdf2" />
<rect x="589.96" y="53.1" width="11" height="3.01" fill="#2cf28b" />
<rect x="589.96" y="51.37" width="11" height="1.78" fill="#4262d9" />
<rect x="589.96" y="50.14" width="11" height="1.28" fill="#f5873a" />
<rect x="589.96" y="48.91" width="11" height="1.28" fill="#8b1fbb" />
<rect x="589.96" y="37.92" width="11" height="11.03" fill="#c0c0c0" />
<path d="M595.46 127.2V130" stroke="#111" stroke-width="0.8"/>
<text x="593.56" y="139.8" font-size="9.6" text-anchor="middle" fill="#111" >4B</text>
<rect x="603.64" y="73.96" width="11" height="48.79" fill="#f2a0dd" />
<rect x="603.64" y="65.57" width="11" height="8.44" fill="#3fcdf2" />
<rect x="603.64" y="53.1" width="11" height="12.51" fill="#2cf28b" />
<rect x="603.64" y="48.66" width="11" height="4.49" fill="#4262d9" />
<rect x="603.64" y="47.43" width="11" height="1.28" fill="#f5873a" />
<rect x="603.64" y="47.06" width="11" height="0.42" fill="#8b1fbb" />
<rect x="603.64" y="40.89" width="11" height="6.22" fill="#c0c0c0" />
<path d="M609.14 127.2V130" stroke="#111" stroke-width="0.8"/>
<text x="607.24" y="139.8" font-size="9.6" text-anchor="middle" fill="#111" >5A</text>
<rect x="617.32" y="115.91" width="11" height="6.84" fill="#f2a0dd" />
<rect x="617.32" y="76.92" width="11" height="39.04" fill="#3fcdf2" />
<rect x="617.32" y="70.38" width="11" height="6.59" fill="#2cf28b" />
<rect x="617.32" y="67.17" width="11" height="3.26" fill="#4262d9" />
<rect x="617.32" y="65.32" width="11" height="1.9" fill="#f5873a" />
<rect x="617.32" y="64.09" width="11" height="1.28" fill="#8b1fbb" />
<rect x="617.32" y="52.24" width="11" height="11.9" fill="#c0c0c0" />
<path d="M622.82 127.2V130" stroke="#111" stroke-width="0.8"/>
<text x="620.92" y="139.8" font-size="9.6" text-anchor="middle" fill="#111" >5B</text>
<rect x="631" y="91.48" width="11" height="31.27" fill="#f2a0dd" />
<rect x="631" y="80.5" width="11" height="11.03" fill="#3fcdf2" />
<rect x="631" y="67.17" width="11" height="13.38" fill="#2cf28b" />
<rect x="631" y="45.08" width="11" height="22.14" fill="#4262d9" />
<rect x="631" y="38.79" width="11" height="6.34" fill="#f5873a" />
<rect x="631" y="35.83" width="11" height="3.01" fill="#8b1fbb" />
<rect x="631" y="27.81" width="11" height="8.07" fill="#c0c0c0" />
<path d="M636.5 127.2V130" stroke="#111" stroke-width="0.8"/>
<text x="634.6" y="139.8" font-size="9.6" text-anchor="middle" fill="#111" >6A</text>
<rect x="644.68" y="121.22" width="11" height="1.53" fill="#f2a0dd" />
<rect x="644.68" y="85.8" width="11" height="35.47" fill="#3fcdf2" />
<rect x="644.68" y="78.15" width="11" height="7.7" fill="#2cf28b" />
<rect x="644.68" y="73.96" width="11" height="4.25" fill="#4262d9" />
<rect x="644.68" y="64.46" width="11" height="9.55" fill="#f5873a" />
<rect x="644.68" y="60.51" width="11" height="4" fill="#8b1fbb" />
<rect x="644.68" y="53.97" width="11" height="6.59" fill="#c0c0c0" />
<path d="M650.18 127.2V130" stroke="#111" stroke-width="0.8"/>
<text x="648.28" y="139.8" font-size="9.6" text-anchor="middle" fill="#111" >6B</text>
<rect x="658.36" y="118.5" width="11" height="4.25" fill="#f2a0dd" />
<rect x="658.36" y="92.96" width="11" height="25.59" fill="#3fcdf2" />
<rect x="658.36" y="87.9" width="11" height="5.11" fill="#2cf28b" />
<rect x="658.36" y="64.46" width="11" height="23.5" fill="#4262d9" />
<rect x="658.36" y="55.2" width="11" height="9.31" fill="#f5873a" />
<rect x="658.36" y="51.99" width="11" height="3.26" fill="#8b1fbb" />
<rect x="658.36" y="42.74" width="11" height="9.31" fill="#c0c0c0" />
<path d="M663.86 127.2V130" stroke="#111" stroke-width="0.8"/>
<text x="661.96" y="139.8" font-size="9.6" text-anchor="middle" fill="#111" >7A</text>
<rect x="672.04" y="99.25" width="11" height="23.5" fill="#f2a0dd" />
<rect x="672.04" y="91.23" width="11" height="8.07" fill="#3fcdf2" />
<rect x="672.04" y="85.19" width="11" height="6.1" fill="#2cf28b" />
<rect x="672.04" y="78.15" width="11" height="7.08" fill="#4262d9" />
<rect x="672.04" y="72.72" width="11" height="5.48" fill="#f5873a" />
<rect x="672.04" y="71.61" width="11" height="1.16" fill="#8b1fbb" />
<rect x="672.04" y="55.82" width="11" height="15.85" fill="#c0c0c0" />
<path d="M677.54 127.2V130" stroke="#111" stroke-width="0.8"/>
<text x="675.64" y="139.8" font-size="9.6" text-anchor="middle" fill="#111" >7B</text>
<text x="465.5" y="157" font-size="10.3" text-anchor="start" fill="#111" >6 basal WE lineages</text>
<rect x="565.2" y="150.4" width="7.4" height="7.2" fill="#3fcdf2" />
<rect x="575.35" y="150.4" width="7.4" height="7.2" fill="#8b1fbb" />
<rect x="585.5" y="150.4" width="7.4" height="7.2" fill="#2cf28b" />
<rect x="595.65" y="150.4" width="7.4" height="7.2" fill="#f2a0dd" />
<rect x="605.8" y="150.4" width="7.4" height="7.2" fill="#4262d9" />
<rect x="615.95" y="150.4" width="7.4" height="7.2" fill="#f5873a" />
<text x="634" y="157" font-size="9.65" text-anchor="start" fill="#111" >other WE</text>
<rect x="676.3" y="150.4" width="9" height="7.2" fill="#c0c0c0" />
</g>
<g id="pc">
<text x="0" y="188.6" font-size="15.5" text-anchor="start" fill="#111" font-weight="bold">c</text>
<rect x="21" y="200.9" width="163.3" height="10.9" fill="#00a551" />
<rect x="21" y="200.9" width="1.1" height="10.9" fill="#0a0a0a" />
<rect x="111.2" y="200.9" width="1" height="10.9" fill="#fdb813" />
<text x="188.5" y="209.5" font-size="10.25" text-anchor="start" fill="#111" >GT026</text>
<text x="224.7" y="209.3" font-size="10.2" text-anchor="start" fill="#111" >(</text>
<text x="239.2" y="209.3" font-size="10.2" text-anchor="start" fill="#111" >)</text>
<rect x="228.4" y="201.3" width="10.9" height="9.3" fill="#00a551" rx="1.1"/>
<rect x="21" y="215.7" width="163.3" height="10.9" fill="#6dcef5" />
<rect x="21" y="215.7" width="1.1" height="10.9" fill="#0a0a0a" />
<rect x="78.4" y="215.7" width="1" height="10.9" fill="#fdb813" />
<text x="188.5" y="224.3" font-size="10.25" text-anchor="start" fill="#111" >GT022</text>
<text x="224.7" y="224.1" font-size="10.2" text-anchor="start" fill="#111" >(</text>
<text x="239.2" y="224.1" font-size="10.2" text-anchor="start" fill="#111" >)</text>
<rect x="228.4" y="216.1" width="10.9" height="9.3" fill="#6dcef5" rx="1.1"/>
<rect x="21" y="230.4" width="163.3" height="10.9" fill="#fdb813" />
<rect x="21" y="230.4" width="1" height="10.9" fill="#0a0a0a" />
<rect x="24.9" y="230.4" width="2.9" height="10.9" fill="#0a0a0a" />
<text x="188.5" y="239" font-size="10.25" text-anchor="start" fill="#111" >GT005</text>
<text x="224.7" y="238.8" font-size="10.2" text-anchor="start" fill="#111" >(</text>
<text x="239.2" y="238.8" font-size="10.2" text-anchor="start" fill="#111" >)</text>
<rect x="228.4" y="230.8" width="10.9" height="9.3" fill="#fdb813" rx="1.1"/>
<rect x="21" y="245.2" width="163.3" height="10.9" fill="#91278f" />
<rect x="21" y="245.2" width="1.1" height="10.9" fill="#0a0a0a" />
<rect x="164.7" y="245.2" width="1" height="10.9" fill="#fdb813" />
<rect x="174" y="245.2" width="1" height="10.9" fill="#fdb813" />
<rect x="176.7" y="245.2" width="7.6" height="10.9" fill="#fdb813" />
<text x="188.5" y="253.8" font-size="10.25" text-anchor="start" fill="#111" >GT004</text>
<text x="224.7" y="253.6" font-size="10.2" text-anchor="start" fill="#111" >(</text>
<text x="239.2" y="253.6" font-size="10.2" text-anchor="start" fill="#111" >)</text>
<rect x="228.4" y="245.6" width="10.9" height="9.3" fill="#91278f" rx="1.1"/>
<rect x="21" y="259.9" width="163.3" height="10.9" fill="#f49ac1" />
<rect x="21" y="259.9" width="2.5" height="10.9" fill="#0a0a0a" />
<rect x="145.6" y="259.9" width="1.1" height="10.9" fill="#fdb813" />
<rect x="148" y="259.9" width="1.1" height="10.9" fill="#fdb813" />
<rect x="164.7" y="259.9" width="1.1" height="10.9" fill="#fdb813" />
<rect x="167" y="259.9" width="1.1" height="10.9" fill="#fdb813" />
<text x="188.5" y="268.5" font-size="10.25" text-anchor="start" fill="#111" >B023</text>
<text x="224.7" y="268.3" font-size="10.2" text-anchor="start" fill="#111" >(</text>
<text x="239.2" y="268.3" font-size="10.2" text-anchor="start" fill="#111" >)</text>
<rect x="228.4" y="260.3" width="10.9" height="9.3" fill="#f49ac1" rx="1.1"/>
<rect x="20.3" y="284.6" width="164" height="10.9" fill="#6dcef5" />
<rect x="20.3" y="284.6" width="1.4" height="10.9" fill="#fdb813" />
<rect x="21.7" y="284.6" width="1.4" height="10.9" fill="#0a0a0a" />
<rect x="23.1" y="284.6" width="0.9" height="10.9" fill="#fdb813" />
<rect x="26.8" y="284.6" width="0.8" height="10.9" fill="#fdb813" />
<rect x="38" y="284.6" width="2.7" height="10.9" fill="#fdb813" />
<rect x="107.8" y="284.6" width="12.4" height="10.9" fill="#fdb813" />
<rect x="120.2" y="284.6" width="1.7" height="10.9" fill="#f8d98a" />
<rect x="121.9" y="284.6" width="14.5" height="10.9" fill="#fdb813" />
<rect x="138" y="284.6" width="11.2" height="10.9" fill="#fdb813" />
<rect x="152.9" y="284.6" width="1.3" height="10.9" fill="#fdb813" />
<rect x="155.6" y="284.6" width="2.5" height="10.9" fill="#fdb813" />
<rect x="162.9" y="284.6" width="1.4" height="10.9" fill="#fdb813" />
<rect x="167.8" y="284.6" width="7.9" height="10.9" fill="#fdb813" />
<rect x="176.9" y="284.6" width="1.5" height="10.9" fill="#fdb813" />
<rect x="179.8" y="284.6" width="1.5" height="10.9" fill="#fdb813" />
<text x="188.5" y="293.2" font-size="10.25" text-anchor="start" fill="#111" >GT100</text>
<text x="224.7" y="293" font-size="10.2" text-anchor="start" fill="#111" >(</text>
<text x="239.2" y="293" font-size="10.2" text-anchor="start" fill="#111" >)</text>
<rect x="228.4" y="285" width="10.9" height="9.3" fill="#6dcef5" rx="1.1"/>
<rect x="20.3" y="299.3" width="164" height="10.9" fill="#6dcef5" />
<rect x="20.3" y="299.3" width="1.4" height="10.9" fill="#fdb813" />
<rect x="21.7" y="299.3" width="2.5" height="10.9" fill="#0a0a0a" />
<rect x="24.2" y="299.3" width="1.2" height="10.9" fill="#91278f" />
<rect x="25.4" y="299.3" width="2.8" height="10.9" fill="#0a0a0a" />
<rect x="28.2" y="299.3" width="0.7" height="10.9" fill="#91278f" />
<rect x="28.9" y="299.3" width="1.5" height="10.9" fill="#fdb813" />
<rect x="31.4" y="299.3" width="2.1" height="10.9" fill="#fdb813" />
<rect x="33.5" y="299.3" width="3.3" height="10.9" fill="#91278f" />
<rect x="38" y="299.3" width="2.7" height="10.9" fill="#fdb813" />
<rect x="89.9" y="299.3" width="1.7" height="10.9" fill="#f49ac1" />
<rect x="99.6" y="299.3" width="12.4" height="10.9" fill="#91278f" />
<rect x="112" y="299.3" width="6.8" height="10.9" fill="#fdb813" />
<rect x="118.8" y="299.3" width="2.7" height="10.9" fill="#91278f" />
<rect x="121.5" y="299.3" width="5.6" height="10.9" fill="#fdb813" />
<rect x="127.1" y="299.3" width="2.5" height="10.9" fill="#91278f" />
<rect x="129.6" y="299.3" width="8.4" height="10.9" fill="#fdb813" />
<rect x="138" y="299.3" width="2.9" height="10.9" fill="#91278f" />
<rect x="140.9" y="299.3" width="5.2" height="10.9" fill="#fdb813" />
<rect x="146.1" y="299.3" width="2.1" height="10.9" fill="#91278f" />
<rect x="148.2" y="299.3" width="1" height="10.9" fill="#fdb813" />
<rect x="149.2" y="299.3" width="5.2" height="10.9" fill="#91278f" />
<rect x="154.4" y="299.3" width="4.1" height="10.9" fill="#fdb813" />
<rect x="158.5" y="299.3" width="1.7" height="10.9" fill="#91278f" />
<rect x="160.2" y="299.3" width="15.1" height="10.9" fill="#fdb813" />
<rect x="175.3" y="299.3" width="1.4" height="10.9" fill="#91278f" />
<rect x="176.7" y="299.3" width="1.1" height="10.9" fill="#fdb813" />
<rect x="177.8" y="299.3" width="1.4" height="10.9" fill="#91278f" />
<rect x="179.2" y="299.3" width="1.1" height="10.9" fill="#fdb813" />
<rect x="180.3" y="299.3" width="1.2" height="10.9" fill="#91278f" />
<text x="188.5" y="307.9" font-size="10.25" text-anchor="start" fill="#111" >GT099</text>
<text x="224.7" y="307.7" font-size="10.2" text-anchor="start" fill="#111" >(</text>
<text x="239.2" y="307.7" font-size="10.2" text-anchor="start" fill="#111" >)</text>
<rect x="228.4" y="299.7" width="10.9" height="9.3" fill="#91278f" rx="1.1"/>
<rect x="20.3" y="313.9" width="164" height="10.9" fill="#6dcef5" />
<rect x="20.3" y="313.9" width="2.7" height="10.9" fill="#0a0a0a" />
<rect x="23" y="313.9" width="1.3" height="10.9" fill="#f49ac1" />
<rect x="24.3" y="313.9" width="2.7" height="10.9" fill="#0a0a0a" />
<rect x="27" y="313.9" width="2.5" height="10.9" fill="#fdb813" />
<rect x="29.5" y="313.9" width="3.1" height="10.9" fill="#f49ac1" />
<rect x="37.8" y="313.9" width="9.9" height="10.9" fill="#fdb813" />
<rect x="89.9" y="313.9" width="1.7" height="10.9" fill="#f49ac1" />
<rect x="99.6" y="313.9" width="9.5" height="10.9" fill="#f49ac1" />
<rect x="109.1" y="313.9" width="1.6" height="10.9" fill="#00a551" />
<rect x="110.7" y="313.9" width="2.5" height="10.9" fill="#f49ac1" />
<rect x="113.2" y="313.9" width="4.6" height="10.9" fill="#00a551" />
<rect x="117.8" y="313.9" width="2" height="10.9" fill="#fdb813" />
<rect x="119.8" y="313.9" width="3.1" height="10.9" fill="#f49ac1" />
<rect x="122.9" y="313.9" width="2.7" height="10.9" fill="#fdb813" />
<rect x="125.6" y="313.9" width="2.5" height="10.9" fill="#f49ac1" />
<rect x="128.1" y="313.9" width="8.9" height="10.9" fill="#fdb813" />
<rect x="137" y="313.9" width="1.4" height="10.9" fill="#f49ac1" />
<rect x="138.4" y="313.9" width="5.2" height="10.9" fill="#fdb813" />
<rect x="143.6" y="313.9" width="2.7" height="10.9" fill="#00a551" />
<rect x="146.3" y="313.9" width="1.3" height="10.9" fill="#fdb813" />
<rect x="147.6" y="313.9" width="15.3" height="10.9" fill="#f49ac1" />
<rect x="162.9" y="313.9" width="2.4" height="10.9" fill="#fdb813" />
<rect x="165.3" y="313.9" width="5.2" height="10.9" fill="#f49ac1" />
<rect x="170.5" y="313.9" width="1.5" height="10.9" fill="#fdb813" />
<rect x="172" y="313.9" width="1.6" height="10.9" fill="#f49ac1" />
<rect x="173.6" y="313.9" width="1.5" height="10.9" fill="#fdb813" />
<rect x="175.1" y="313.9" width="1.6" height="10.9" fill="#f49ac1" />
<rect x="176.7" y="313.9" width="1.5" height="10.9" fill="#fdb813" />
<rect x="178.2" y="313.9" width="3.1" height="10.9" fill="#f49ac1" />
<text x="188.5" y="322.5" font-size="10.25" text-anchor="start" fill="#111" >B002</text>
<text x="224.7" y="322.3" font-size="10.2" text-anchor="start" fill="#111" >(</text>
<text x="239.2" y="322.3" font-size="10.2" text-anchor="start" fill="#111" >)</text>
<rect x="228.4" y="314.3" width="10.9" height="9.3" fill="#f49ac1" rx="1.1"/>
<rect x="20.3" y="329" width="164" height="10.9" fill="#fdb813" />
<text x="188.5" y="337.6" font-size="10.25" text-anchor="start" fill="#111" >GT101</text>
<text x="224.7" y="337.4" font-size="10.2" text-anchor="start" fill="#111" >(</text>
<text x="239.2" y="337.4" font-size="10.2" text-anchor="start" fill="#111" >)</text>
<rect x="228.4" y="329.4" width="10.9" height="9.3" fill="#fdb813" rx="1.1"/>
<rect x="20.3" y="343.6" width="164" height="10.9" fill="#00a551" />
<rect x="20.3" y="343.6" width="1.2" height="10.9" fill="#0a0a0a" />
<rect x="41.9" y="343.6" width="3.1" height="10.9" fill="#fdb813" />
<rect x="45" y="343.6" width="5.2" height="10.9" fill="#6dcef5" />
<rect x="86" y="343.6" width="2.9" height="10.9" fill="#6dcef5" />
<rect x="121.5" y="343.6" width="4.1" height="10.9" fill="#fdb813" />
<rect x="140.9" y="343.6" width="2.7" height="10.9" fill="#fdb813" />
<rect x="148" y="343.6" width="1.2" height="10.9" fill="#fdb813" />
<rect x="150" y="343.6" width="1.3" height="10.9" fill="#6dcef5" />
<rect x="153.9" y="343.6" width="1.5" height="10.9" fill="#6dcef5" />
<rect x="170.9" y="343.6" width="1.3" height="10.9" fill="#fdb813" />
<rect x="182.9" y="343.6" width="1.4" height="10.9" fill="#6dcef5" />
<text x="188.5" y="352.2" font-size="10.25" text-anchor="start" fill="#111" >B073</text>
<text x="224.7" y="352" font-size="10.2" text-anchor="start" fill="#111" >(</text>
<text x="239.2" y="352" font-size="10.2" text-anchor="start" fill="#111" >)</text>
<rect x="228.4" y="344" width="10.9" height="9.3" fill="#00a551" rx="1.1"/>
<text x="2" y="240.2" font-size="10.3" text-anchor="start" fill="#111" >WE</text>
<text x="3" y="323.7" font-size="10.3" text-anchor="start" fill="#111" >DT</text>
<path d="M20.2 359.4H183.2" stroke="#111" stroke-width="1"/>
<path d="M20.6 359.4V361.8" stroke="#111" stroke-width="0.9"/>
<text x="20.4" y="371.2" font-size="10.2" text-anchor="middle" fill="#111" >0</text>
<path d="M74.4 359.4V361.8" stroke="#111" stroke-width="0.9"/>
<text x="74.2" y="371.2" font-size="10.2" text-anchor="middle" fill="#111" >200</text>
<path d="M129 359.4V361.8" stroke="#111" stroke-width="0.9"/>
<text x="128.8" y="371.2" font-size="10.2" text-anchor="middle" fill="#111" >400</text>
<path d="M182.6 359.4V361.8" stroke="#111" stroke-width="0.9"/>
<text x="182.4" y="371.2" font-size="10.2" text-anchor="middle" fill="#111" >595</text>
<text x="105" y="384.4" font-size="10" text-anchor="middle" fill="#111" >chr1A (Mb)</text>
</g>
<g id="pd">
<text x="256.3" y="190.8" font-size="14.5" text-anchor="start" fill="#111" font-weight="bold">d</text>
<text x="277.4" y="203.2" font-size="11.2" text-anchor="start" fill="#111" >Chloroplast phylogeny</text>
<rect x="283.6" y="209.2" width="183.8" height="52.3" fill="#fce5e5" />
<path d="M475.8 189V194" stroke="#0c0c0c" stroke-width="1.65"/>
<path d="M440.5 198.9V194H510.3V207" stroke="#0c0c0c" stroke-width="1.65" fill="none" />
<path d="M507.6 198.6L513.6 195.6" stroke="#0c0c0c" stroke-width="1.19" />
<path d="M507.6 201.3L513.6 198.3" stroke="#0c0c0c" stroke-width="1.19" />
<path d="M422 210.3V198.9H455.5V223.7" stroke="#0c0c0c" stroke-width="1.65" fill="none" />
<path d="M451.9 232.8V223.7H458.7V234.7" stroke="#0c0c0c" stroke-width="1.65" fill="none" />
<text x="515" y="219" font-size="11.4" text-anchor="middle" fill="#111" font-style="italic">Ae. speltoides</text>
<text x="512" y="232.3" font-size="11.2" text-anchor="middle" fill="#111" >(SS)</text>
<path d="M401 210.4H444.9" stroke="#0c0c0c" stroke-width="1.44"/>
<path d="M401 210.4V215.3" stroke="#0c0c0c" stroke-width="1.38"/>
<path d="M366.8 215.3H434" stroke="#0c0c0c" stroke-width="1.1"/>
<path d="M366.8 215.3V217.6" stroke="#0c0c0c" stroke-width="1.25"/>
<path d="M307.9 217.55H434" stroke="#0c0c0c" stroke-width="1.1"/>
<path d="M307.9 217.6V220.5" stroke="#0c0c0c" stroke-width="1.38"/>
<path d="M281.5 220.55H384" stroke="#0c0c0c" stroke-width="1.5"/>
<path d="M350 221.6H384" stroke="#0c0c0c" stroke-width="1.5"/>
<path d="M384 222H403.8" stroke="#0c0c0c" stroke-width="1.25"/>
<path d="M284.9 220.9V225.7" stroke="#e31a1f" stroke-width="1.5"/>
<path d="M288 227.7L290 225.7L296.6 224.3L306.8 223.1L320 222.3L345 222" stroke="#0c0c0c" stroke-width="1.2" fill="none" />
<path d="M296.6 225.1H303.4" stroke="#0c0c0c" stroke-width="0.9"/>
<path d="M307.5 221.9H345" stroke="#0c0c0c" stroke-width="0.9"/>
<path d="M287.6 237.4V229.2Q287.6 228.6 288.4 228.6H290.5V237.4M289.1 228.6V237.4" stroke="#e31a1f" stroke-width="1.45" fill="none" />
<path d="M292.9 231.6V227.6H295.5V233.7" stroke="#e31a1f" stroke-width="1.4" fill="none" />
<path d="M299.7 231.5V228.3H303.3V231.9M301.2 227.6V234.4" stroke="#e31a1f" stroke-width="1.45" fill="none" />
<path d="M306.5 231.5H312.4" stroke="#e31a1f" stroke-width="1.5"/>
<path d="M311.2 229.7H316.4" stroke="#e31a1f" stroke-width="1.4"/>
<path d="M314.1 227.9H320.7" stroke="#e31a1f" stroke-width="1.4"/>
<path d="M320.1 227.9V232.2" stroke="#e31a1f" stroke-width="1.35"/>
<path d="M312.7 228.7L318.5 226.4" stroke="#0c0c0c" stroke-width="0.7" />
<path d="M324.2 226.4V231.9" stroke="#0c0c0c" stroke-width="1"/>
<path d="M322.1 232.6H326.5" stroke="#e31a1f" stroke-width="1.4"/>
<path d="M325.8 226.9H329.6" stroke="#e31a1f" stroke-width="1.45"/>
<path d="M331.1 233V225.2Q331.1 223.4 333 223.4H336.7V232.6M333.9 223V237.7" stroke="#e31a1f" stroke-width="1.45" fill="none" />
<path d="M330.2 226.2V229.5" stroke="#e31a1f" stroke-width="1"/>
<path d="M342.7 229.8H339.3V226" stroke="#e31a1f" stroke-width="1.45" fill="none" />
<path d="M338 224.4H348.8" stroke="#0c0c0c" stroke-width="0.9"/>
<path d="M345 227.9H347.9V230.7" stroke="#e31a1f" stroke-width="1.45" fill="none" />
<path d="M349.2 225.9H353.9" stroke="#e31a1f" stroke-width="1.4"/>
<path d="M357.5 221V233.1" stroke="#0c0c0c" stroke-width="1.25"/>
<rect x="355.2" y="233" width="2.9" height="1.7" fill="#377eb8" />
<path d="M358.4 234L359.4 236.9" stroke="#e31a1f" stroke-width="1.4" />
<path d="M380.5 222V228L372 235.6L368 238.4" stroke="#0c0c0c" stroke-width="1.3" fill="none" />
<path d="M371.2 237.4V242.3" stroke="#0c0c0c" stroke-width="1.1"/>
<path d="M382.7 223.9H386.4V226.5" stroke="#e31a1f" stroke-width="1.45" fill="none" />
<path d="M380 229.3H383.6V231.1" stroke="#e31a1f" stroke-width="1.45" fill="none" />
<path d="M377.6 232.4H381.3V234" stroke="#e31a1f" stroke-width="1.45" fill="none" />
<path d="M374.3 234.6H378.5V236.1" stroke="#e31a1f" stroke-width="1.45" fill="none" />
<path d="M371.6 237.7H375.7V238.9" stroke="#e31a1f" stroke-width="1.45" fill="none" />
<path d="M360.4 239.1H366.2" stroke="#e31a1f" stroke-width="1.5"/>
<path d="M366.9 239.1V246.5" stroke="#e31a1f" stroke-width="1.5"/>
<path d="M370.3 242.6H372.4V246.6" stroke="#e31a1f" stroke-width="1.4" fill="none" />
<path d="M388.3 225.9H397.4V228" stroke="#e31a1f" stroke-width="1.5" fill="none" />
<path d="M394.5 225.9V227.6" stroke="#e31a1f" stroke-width="1"/>
<path d="M397.6 222.8H404" stroke="#0c0c0c" stroke-width="1"/>
<path d="M401 222.8V228.9" stroke="#0c0c0c" stroke-width="1.2"/>
<path d="M399.2 232V230H403" stroke="#e31a1f" stroke-width="1.45" fill="none" />
<path d="M404 223H408.7" stroke="#e31a1f" stroke-width="1.5"/>
<path d="M422.4 216.4V226.3" stroke="#0c0c0c" stroke-width="1.35"/>
<path d="M418.9 235.8V226.3H425.8" stroke="#0c0c0c" stroke-width="1.3" fill="none" />
<path d="M424 232V228.9H427V239.9" stroke="#e31a1f" stroke-width="1.45" fill="none" />
<path d="M418.9 235.8L412 239.7V242.8" stroke="#0c0c0c" stroke-width="1.25" fill="none" />
<path d="M414.3 238H418V240.4" stroke="#e31a1f" stroke-width="1.45" fill="none" />
<path d="M418.2 235.5H421.3V242.5" stroke="#e31a1f" stroke-width="1.45" fill="none" />
<path d="M410.1 250V243.7H412.9V249.6" stroke="#e31a1f" stroke-width="1.45" fill="none" />
<path d="M425.1 217.9H429.9V224.4" stroke="#e31a1f" stroke-width="1.45" fill="none" />
<path d="M432 234.7V216M431 215.4H435.4V236M433.8 215.4V235.4" stroke="#e31a1f" stroke-width="1.45" fill="none" />
<path d="M441.9 217.7V227.4" stroke="#0c0c0c" stroke-width="1.25"/>
<path d="M440.6 217.7H444.4" stroke="#0c0c0c" stroke-width="1.1"/>
<path d="M444.2 210.3V217.5" stroke="#0c0c0c" stroke-width="1.35"/>
<path d="M443.8 240.5V217.9H446.2V249.6" stroke="#e31a1f" stroke-width="1.55" fill="none" />
<path d="M439.5 231.5V227.2H443.2" stroke="#0c0c0c" stroke-width="1.15" fill="none" />
<path d="M437.3 237.3V231.5H440.5" stroke="#e31a1f" stroke-width="1.45" fill="none" />
<path d="M442.5 228V234.5" stroke="#e31a1f" stroke-width="1.25"/>
<path d="M451.9 233Q448.6 233.2 448.6 236V240.5" stroke="#377eb8" stroke-width="1.6" fill="none" />
<path d="M451.9 233V242.5" stroke="#e31a1f" stroke-width="1.45"/>
<path d="M452 233.2H454.8V236" stroke="#e31a1f" stroke-width="1.2" fill="none" />
<path d="M456.8 246.3V236.9Q456.8 235.4 458.2 235.4Q459.6 235.4 459.6 236.9V239.9" stroke="#377eb8" stroke-width="1.6" fill="none" />
<path d="M285 254.1H456" stroke="#3c3c3c" stroke-width="1.06"/>
<rect x="354.3" y="251" width="3" height="6" fill="#fdc72f" />
<rect x="447.3" y="251" width="3" height="6" fill="#fdc72f" />
<rect x="456" y="251" width="5.6" height="6" fill="#fdc72f" />
<path d="M470.9 235.3V245.2" stroke="#0c0c0c" stroke-width="1.5"/>
<text transform="translate(481.6 241) rotate(-90)" font-size="10.1" text-anchor="middle" fill="#111" >0.01</text>
<rect x="579" y="194.4" width="4.7" height="4.7" fill="#e31a1f" />
<text x="587.5" y="200.9" font-size="11" text-anchor="start" fill="#111" >WE</text>
<rect x="579" y="209.48" width="4.7" height="4.7" fill="#377eb8" />
<text x="587.5" y="215.98" font-size="11" text-anchor="start" fill="#111" >DT</text>
<rect x="579" y="224.56" width="4.7" height="4.7" fill="#4daf4a" />
<text x="587.5" y="231.06" font-size="11" text-anchor="start" fill="#111" >LR</text>
<rect x="579" y="239.64" width="4.7" height="4.7" fill="#984ea3" />
<text x="587.5" y="246.14" font-size="11" text-anchor="start" fill="#111" >CV</text>
<path d="M613.4 194.6Q610 194.8 610 198V279.6Q610 282.8 613.4 283" stroke="#0c0c0c" stroke-width="1.12" fill="none" />
<path d="M607 212H610" stroke="#0c0c0c" stroke-width="1.12"/>
<rect x="616.6" y="193" width="3.6" height="7" fill="#6dcef5" />
<text x="622.8" y="200" font-size="9.85" text-anchor="start" fill="#111" >Durum</text>
<rect x="616.6" y="208.9" width="3.6" height="7" fill="#fdc72f" />
<text x="622.8" y="215.9" font-size="9.85" text-anchor="start" fill="#111" >Domesticated</text>
<rect x="616.6" y="230.3" width="3.6" height="7" fill="#8a3fe8" />
<text x="622.8" y="237.3" font-size="9.85" text-anchor="start" fill="#111" >Polish</text>
<rect x="616.6" y="246" width="3.6" height="7" fill="#f4a3c6" />
<text x="622.8" y="253" font-size="9.85" text-anchor="start" fill="#111" >Rivet</text>
<rect x="616.6" y="261.8" width="3.6" height="7" fill="#ec008c" />
<text x="622.8" y="268.8" font-size="9.85" text-anchor="start" fill="#111" >Khorasan</text>
<rect x="616.6" y="277.3" width="3.6" height="7" fill="#b5651d" />
<text x="622.8" y="284.3" font-size="9.85" text-anchor="start" fill="#111" >Persian</text>
<text x="622.8" y="223.6" font-size="9.85" text-anchor="start" fill="#111" >emmer</text>
<rect x="283.7" y="278.2" width="81.8" height="47" fill="#e5f1e1" />
<rect x="365.5" y="278.2" width="201.7" height="47" fill="#e9f0f9" />
<path d="M365.5 278.2V325.2" stroke="#707070" stroke-width="0.75" stroke-dasharray="3 1.8"/>
<path d="M301 281.4H420.8" stroke="#0c0c0c" stroke-width="1.88"/>
<path d="M420.8 281.4H561.8" stroke="#377eb8" stroke-width="1.62"/>
<path d="M337.8 300.2V294.4H358.8" stroke="#0c0c0c" stroke-width="1.5" fill="none" />
<path d="M349.1 294.4V283.4H355.5" stroke="#0c0c0c" stroke-width="1.5" fill="none" />
<path d="M355.3 283.5H364.8" stroke="#377eb8" stroke-width="1.8"/>
<path d="M357.7 295.9H361.9" stroke="#377eb8" stroke-width="1.9"/>
<path d="M316.9 300.3H337.8" stroke="#0c0c0c" stroke-width="1.3"/>
<path d="M325 300.5H356.7" stroke="#4daf4a" stroke-width="1.8"/>
<path d="M331.9 300.4H332.8" stroke="#0c0c0c" stroke-width="1.5"/>
<path d="M344.7 300.5V305.7" stroke="#4daf4a" stroke-width="1.5"/>
<path d="M316.9 300.3V301.7L312.8 302.8V304.1L316.3 306.1" stroke="#0c0c0c" stroke-width="1.3" fill="none" />
<path d="M318.9 303.1H324" stroke="#984ea3" stroke-width="1.7"/>
<path d="M284.4 305.3H287" stroke="#4daf4a" stroke-width="1.8"/>
<path d="M287 305.3H296" stroke="#984ea3" stroke-width="1.8"/>
<path d="M296 305.3H298.2" stroke="#4daf4a" stroke-width="1.8"/>
<path d="M298.5 305.3H299.7" stroke="#984ea3" stroke-width="1.8"/>
<path d="M300 305.3H306" stroke="#4daf4a" stroke-width="1.8"/>
<path d="M306 305.3H312.6" stroke="#984ea3" stroke-width="1.8"/>
<path d="M313.8 307.7H317.4" stroke="#984ea3" stroke-width="1.6"/>
<path d="M317.4 307.7H318.6" stroke="#4daf4a" stroke-width="1.4"/>
<path d="M417.2 281.4V285.2L400 286.1L385 287L370.1 287.9V290.5L367.9 292.4" stroke="#0c0c0c" stroke-width="1.5" fill="none" />
<path d="M383.7 286.2H396.2" stroke="#0c0c0c" stroke-width="0.7"/>
<path d="M366.4 293.1H369.9" stroke="#377eb8" stroke-width="1.8"/>
<path d="M371.9 291.1H375.1" stroke="#377eb8" stroke-width="1.6"/>
<path d="M377.8 288.9H381V291.5" stroke="#377eb8" stroke-width="1.5" fill="none" />
<path d="M383.7 287.6V293.1" stroke="#377eb8" stroke-width="1.5"/>
<path d="M385.7 292.2V296.4" stroke="#377eb8" stroke-width="1.5"/>
<path d="M388.3 289.8H391.6" stroke="#377eb8" stroke-width="1.5"/>
<path d="M390.6 289V294" stroke="#377eb8" stroke-width="1.5"/>
<path d="M391.6 288.7H394.9" stroke="#377eb8" stroke-width="1.5"/>
<path d="M396.8 285.9V301" stroke="#377eb8" stroke-width="2"/>
<path d="M399.5 286V291.5" stroke="#377eb8" stroke-width="1.5"/>
<path d="M404.7 285.8V291.5" stroke="#377eb8" stroke-width="1.5"/>
<path d="M410.6 285.2H416.5" stroke="#377eb8" stroke-width="1.9"/>
<path d="M419.2 286.3V290" stroke="#377eb8" stroke-width="1.5"/>
<rect x="420.6" y="287.2" width="3.2" height="1.9" fill="#377eb8" />
<path d="M421.8 282.6H427.7" stroke="#377eb8" stroke-width="1.3"/>
<path d="M427 281.4V284.5" stroke="#377eb8" stroke-width="1.5"/>
<path d="M432.3 281.4V286.6" stroke="#377eb8" stroke-width="1.8"/>
<path d="M440.6 281.4V284.5" stroke="#377eb8" stroke-width="1.5"/>
<path d="M436.1 281.4V283.2" stroke="#377eb8" stroke-width="1.2"/>
<path d="M486 282H494.2" stroke="#0c0c0c" stroke-width="1.62"/>
<path d="M489.7 283V291" stroke="#377eb8" stroke-width="1.62"/>
<path d="M487 287H492.2" stroke="#377eb8" stroke-width="1.5"/>
<path d="M494.5 282.5V287" stroke="#377eb8" stroke-width="1.5"/>
<path d="M284.4 319.8H357.3" stroke="#666666" stroke-width="1.5"/>
<rect x="357.3" y="316.8" width="5.9" height="6.1" fill="#6dcef5" />
<rect x="363.1" y="316.8" width="2.4" height="6.1" fill="#f4a3c6" />
<rect x="365.4" y="316.8" width="10.9" height="6.1" fill="#8a3fe8" />
<rect x="376.2" y="316.8" width="41.2" height="6.1" fill="#fdc72f" />
<rect x="417.3" y="316.8" width="6" height="6.1" fill="#6dcef5" />
<rect x="423.2" y="316.8" width="4.7" height="6.1" fill="#fdc72f" />
<rect x="427.8" y="316.8" width="3.2" height="6.1" fill="#b5651d" />
<rect x="430.9" y="316.8" width="2.9" height="6.1" fill="#f4a3c6" />
<rect x="433.7" y="316.8" width="2.9" height="6.1" fill="#6dcef5" />
<rect x="436.5" y="316.8" width="5.5" height="6.1" fill="#f4a3c6" />
<rect x="441.9" y="316.8" width="3.1" height="6.1" fill="#fdc72f" />
<rect x="444.9" y="316.8" width="2.4" height="6.1" fill="#6dcef5" />
<rect x="447.2" y="316.8" width="5.7" height="6.1" fill="#f4a3c6" />
<rect x="452.8" y="316.8" width="3.2" height="6.1" fill="#ec008c" />
<rect x="455.9" y="316.8" width="2.4" height="6.1" fill="#fdc72f" />
<rect x="458.2" y="316.8" width="2.9" height="6.1" fill="#b5651d" />
<rect x="461" y="316.8" width="2.7" height="6.1" fill="#f4a3c6" />
<rect x="463.6" y="316.8" width="5.7" height="6.1" fill="#b5651d" />
<rect x="469.2" y="316.8" width="10.8" height="6.1" fill="#6dcef5" />
<rect x="479.9" y="316.8" width="2.9" height="6.1" fill="#fdc72f" />
<rect x="482.7" y="316.8" width="2.9" height="6.1" fill="#6dcef5" />
<rect x="485.5" y="316.8" width="10.9" height="6.1" fill="#fdc72f" />
<rect x="496.3" y="316.8" width="8.7" height="6.1" fill="#f4a3c6" />
<rect x="504.9" y="316.8" width="7.8" height="6.1" fill="#8a3fe8" />
<rect x="512.6" y="316.8" width="11.6" height="6.1" fill="#ec008c" />
<rect x="524.1" y="316.8" width="7.8" height="6.1" fill="#fdc72f" />
<rect x="531.8" y="316.8" width="11.3" height="6.1" fill="#b5651d" />
<rect x="543" y="316.8" width="5.7" height="6.1" fill="#6dcef5" />
<rect x="548.6" y="316.8" width="5.5" height="6.1" fill="#f4a3c6" />
<rect x="554" y="316.8" width="2.9" height="6.1" fill="#ec008c" />
<rect x="556.8" y="316.8" width="2.6" height="6.1" fill="#b5651d" />
<rect x="559.3" y="316.8" width="2.9" height="6.1" fill="#6dcef5" />
<path d="M573.8 280.9V299.6" stroke="#0c0c0c" stroke-width="1.5"/>
<text transform="translate(584 290.2) rotate(-90)" font-size="10.1" text-anchor="middle" fill="#111" >0.01</text>
<text x="358.4" y="335.6" font-size="9.4"><tspan fill="#8a3fe8" stroke="#8a3fe8" stroke-width="0.12">Polish wheat</tspan><tspan fill="#111"> &amp; </tspan><tspan fill="#3fae49" stroke="#3fae49" stroke-width="0.12">Xinjiang rice wheat</tspan></text>
<path d="M330.6 340.4Q342 333.4 357.2 332.2" stroke="#0c0c0c" stroke-width="0.94" fill="none" />
<rect x="283.7" y="339.4" width="56" height="45.3" fill="#dcebd8" />
<rect x="339.7" y="339.4" width="18.7" height="45.3" fill="#ecf5ea" />
<rect x="358.4" y="339.4" width="52.6" height="45.3" fill="#dcebd8" />
<rect x="411" y="339.4" width="245.1" height="45.3" fill="#ecf5ea" />
<path d="M339.7 339.4V384.7" stroke="#707070" stroke-width="0.75" stroke-dasharray="3 1.8"/>
<path d="M358.4 339.4V384.7" stroke="#707070" stroke-width="0.75" stroke-dasharray="3 1.8"/>
<path d="M410.8 339.4V384.7" stroke="#707070" stroke-width="0.75" stroke-dasharray="3 1.8"/>
<path d="M284 340.9H463" stroke="#0c0c0c" stroke-width="1.5"/>
<path d="M462.9 340.9H476.9" stroke="#4daf4a" stroke-width="1.5"/>
<path d="M476.9 340.9H501.4" stroke="#984ea3" stroke-width="1.5"/>
<path d="M501.4 340.9H512.8" stroke="#4daf4a" stroke-width="1.5"/>
<path d="M512.8 340.9H517.5" stroke="#984ea3" stroke-width="1.5"/>
<path d="M517.5 340.9H520" stroke="#4daf4a" stroke-width="1.5"/>
<path d="M519.8 340.9H547.9" stroke="#0c0c0c" stroke-width="1.5"/>
<path d="M547.9 340.9H656" stroke="#4daf4a" stroke-width="1.5"/>
<path d="M414.2 340.9H421.6" stroke="#984ea3" stroke-width="1.5"/>
<path d="M421.6 340.9H428" stroke="#4daf4a" stroke-width="1.5"/>
<path d="M580.8 340.9H583" stroke="#984ea3" stroke-width="1.5"/>
<path d="M583 340.9H587.5" stroke="#377eb8" stroke-width="1.5"/>
<path d="M589.2 340.9H592.5" stroke="#377eb8" stroke-width="1.5"/>
<path d="M592.5 340.9H598" stroke="#984ea3" stroke-width="1.5"/>
<path d="M600.9 340.9H605" stroke="#377eb8" stroke-width="1.5"/>
<path d="M613.2 340.9H616.2" stroke="#984ea3" stroke-width="1.5"/>
<path d="M629.8 340.9H632.6" stroke="#984ea3" stroke-width="1.5"/>
<path d="M638.2 340.9H642" stroke="#984ea3" stroke-width="1.5"/>
<path d="M645.9 340.9H649" stroke="#984ea3" stroke-width="1.5"/>
<path d="M652.6 340.9H656" stroke="#984ea3" stroke-width="1.5"/>
<path d="M284.6 345.2V341.6H288" stroke="#4daf4a" stroke-width="1.82" fill="none" />
<path d="M287 342H294.9" stroke="#984ea3" stroke-width="1.82"/>
<path d="M294.9 342.3H299.2" stroke="#4daf4a" stroke-width="1.82"/>
<path d="M299.3 343.7H306.3" stroke="#984ea3" stroke-width="1.82"/>
<path d="M306.3 344.2H308.5" stroke="#4daf4a" stroke-width="1.82"/>
<path d="M308 344.5H319.6" stroke="#377eb8" stroke-width="2.14"/>
<path d="M317.3 340.9V344.3" stroke="#0c0c0c" stroke-width="1.25"/>
<path d="M321.2 344H325" stroke="#4daf4a" stroke-width="1.5"/>
<path d="M325.8 344H329.9" stroke="#4daf4a" stroke-width="1.5"/>
<path d="M330.2 344H333" stroke="#377eb8" stroke-width="1.5"/>
<path d="M333.4 344H338.4" stroke="#4daf4a" stroke-width="1.5"/>
<path d="M342.5 340.9V345.2" stroke="#0c0c0c" stroke-width="1.25"/>
<path d="M340.4 345.9H343.9V361.5" stroke="#377eb8" stroke-width="2.21" fill="none" />
<path d="M345.7 342.3H350.2" stroke="#377eb8" stroke-width="1.68"/>
<path d="M354.5 340.9V346.2" stroke="#0c0c0c" stroke-width="1.12"/>
<path d="M352.8 348.6V345.4M352.8 347H357.6" stroke="#377eb8" stroke-width="1.9" fill="none" />
<path d="M359.7 342.6H369.3" stroke="#4daf4a" stroke-width="1.82"/>
<path d="M369.5 342.2H384.5" stroke="#0c0c0c" stroke-width="1.62"/>
<path d="M362.3 346.6H366.8" stroke="#984ea3" stroke-width="1.99"/>
<path d="M367.2 347.3L369.6 348.1" stroke="#377eb8" stroke-width="1.99" />
<path d="M370.2 348.3L372.6 349.1" stroke="#377eb8" stroke-width="1.99" />
<path d="M373.2 349.3L375.6 350.1" stroke="#4daf4a" stroke-width="1.99" />
<path d="M376.2 350.3L378.4 351.1" stroke="#4daf4a" stroke-width="1.99" />
<path d="M377 349.2Q381 350.3 382.6 353" stroke="#0c0c0c" stroke-width="1.12" fill="none" />
<path d="M379.6 351.6L382.4 353.2" stroke="#4daf4a" stroke-width="1.99" />
<path d="M383.9 344.8H410.2" stroke="#4daf4a" stroke-width="1.99"/>
<path d="M387.1 344.8V349.4" stroke="#4daf4a" stroke-width="1.9"/>
<path d="M396.2 344.8V349.4" stroke="#4daf4a" stroke-width="1.9"/>
<path d="M425.1 344.9H462" stroke="#984ea3" stroke-width="1.56"/>
<path d="M425.2 344.9V351.4" stroke="#984ea3" stroke-width="1.62"/>
<path d="M453.5 344.9V347.6" stroke="#984ea3" stroke-width="1.38"/>
<path d="M440.4 346.5V348.8" stroke="#4daf4a" stroke-width="1.38"/>
<path d="M469.5 340.9V345.6" stroke="#4daf4a" stroke-width="1.5"/>
<path d="M519.8 344.9H546.5" stroke="#4daf4a" stroke-width="1.56"/>
<path d="M507.6 340.9V347.6" stroke="#4daf4a" stroke-width="1.62"/>
<path d="M518.4 340.9V345" stroke="#4daf4a" stroke-width="1.38"/>
<path d="M513.7 340.9V345" stroke="#984ea3" stroke-width="1.38"/>
<path d="M516 340.9V345" stroke="#984ea3" stroke-width="1.38"/>
<path d="M524.6 340.9V344.2" stroke="#0c0c0c" stroke-width="1.12"/>
<path d="M529.5 344.9V349.6" stroke="#984ea3" stroke-width="1.56"/>
<rect x="439.5" y="345.6" width="2.1" height="1.7" fill="#0c0c0c" />
<path d="M428.4 340.9V343.2" stroke="#0c0c0c" stroke-width="1"/>
<path d="M497.9 341.6L496.4 345.4H499.4Z" style="fill:#0c0c0c" stroke="none"/>
<path d="M603 340.9V359.7" stroke="#377eb8" stroke-width="1.75"/>
<path d="M284 379.8H656" stroke="#666666" stroke-width="1.38"/>
<rect x="306.8" y="377" width="3.3" height="5.7" fill="#ec008c" />
<rect x="310.1" y="377" width="1.4" height="5.7" fill="#8a3fe8" />
<rect x="311.5" y="377" width="3" height="5.7" fill="#6dcef5" />
<rect x="315" y="377" width="5.6" height="5.7" fill="#8a3fe8" />
<rect x="329" y="377" width="2.7" height="5.7" fill="#6dcef5" />
<rect x="337.3" y="377" width="2.3" height="5.7" fill="#8a3fe8" />
<rect x="339.6" y="377" width="5.6" height="5.7" fill="#fdc72f" />
<rect x="345.2" y="377" width="2.6" height="5.7" fill="#6dcef5" />
<rect x="350.4" y="377" width="1.8" height="5.7" fill="#6dcef5" />
<rect x="352.2" y="377" width="0.8" height="5.7" fill="#f4a3c6" />
<rect x="353" y="377" width="5.3" height="5.7" fill="#ec008c" />
<rect x="367.2" y="377" width="5.1" height="5.7" fill="#6dcef5" />
<rect x="583.3" y="377" width="3.2" height="5.7" fill="#6dcef5" />
<rect x="588" y="377" width="3.2" height="5.7" fill="#6dcef5" />
<rect x="601.4" y="377" width="3.2" height="5.7" fill="#fdc72f" />
<path d="M284 220.3H279.3Q277.8 220.3 277.8 221.8V272.5Q277.8 274 279.3 274H459.6" stroke="#0c0c0c" stroke-width="1.69" fill="none" stroke-dasharray="3.9 2.2"/>
<path d="M460.6 273.6V280.2M458.3 277.5L460.6 280.5L462.9 277.5" stroke="#0c0c0c" stroke-width="1.12" fill="none" />
<path d="M301 281.5H278.3Q276.8 281.5 276.8 283V333.9Q276.8 335.4 278.3 335.4H314.6" stroke="#0c0c0c" stroke-width="1.69" fill="none" stroke-dasharray="3.9 2.2"/>
<path d="M315.9 335V339.2M313.6 336.6L315.9 339.5L318.2 336.6" stroke="#0c0c0c" stroke-width="1.12" fill="none" />
<path d="M666.2 339.8V355.3" stroke="#0c0c0c" stroke-width="1.5"/>
<text transform="translate(678.3 348.3) rotate(-90)" font-size="10.1" text-anchor="middle" fill="#111" >0.01</text>
</g>
</svg>
</body></html>
